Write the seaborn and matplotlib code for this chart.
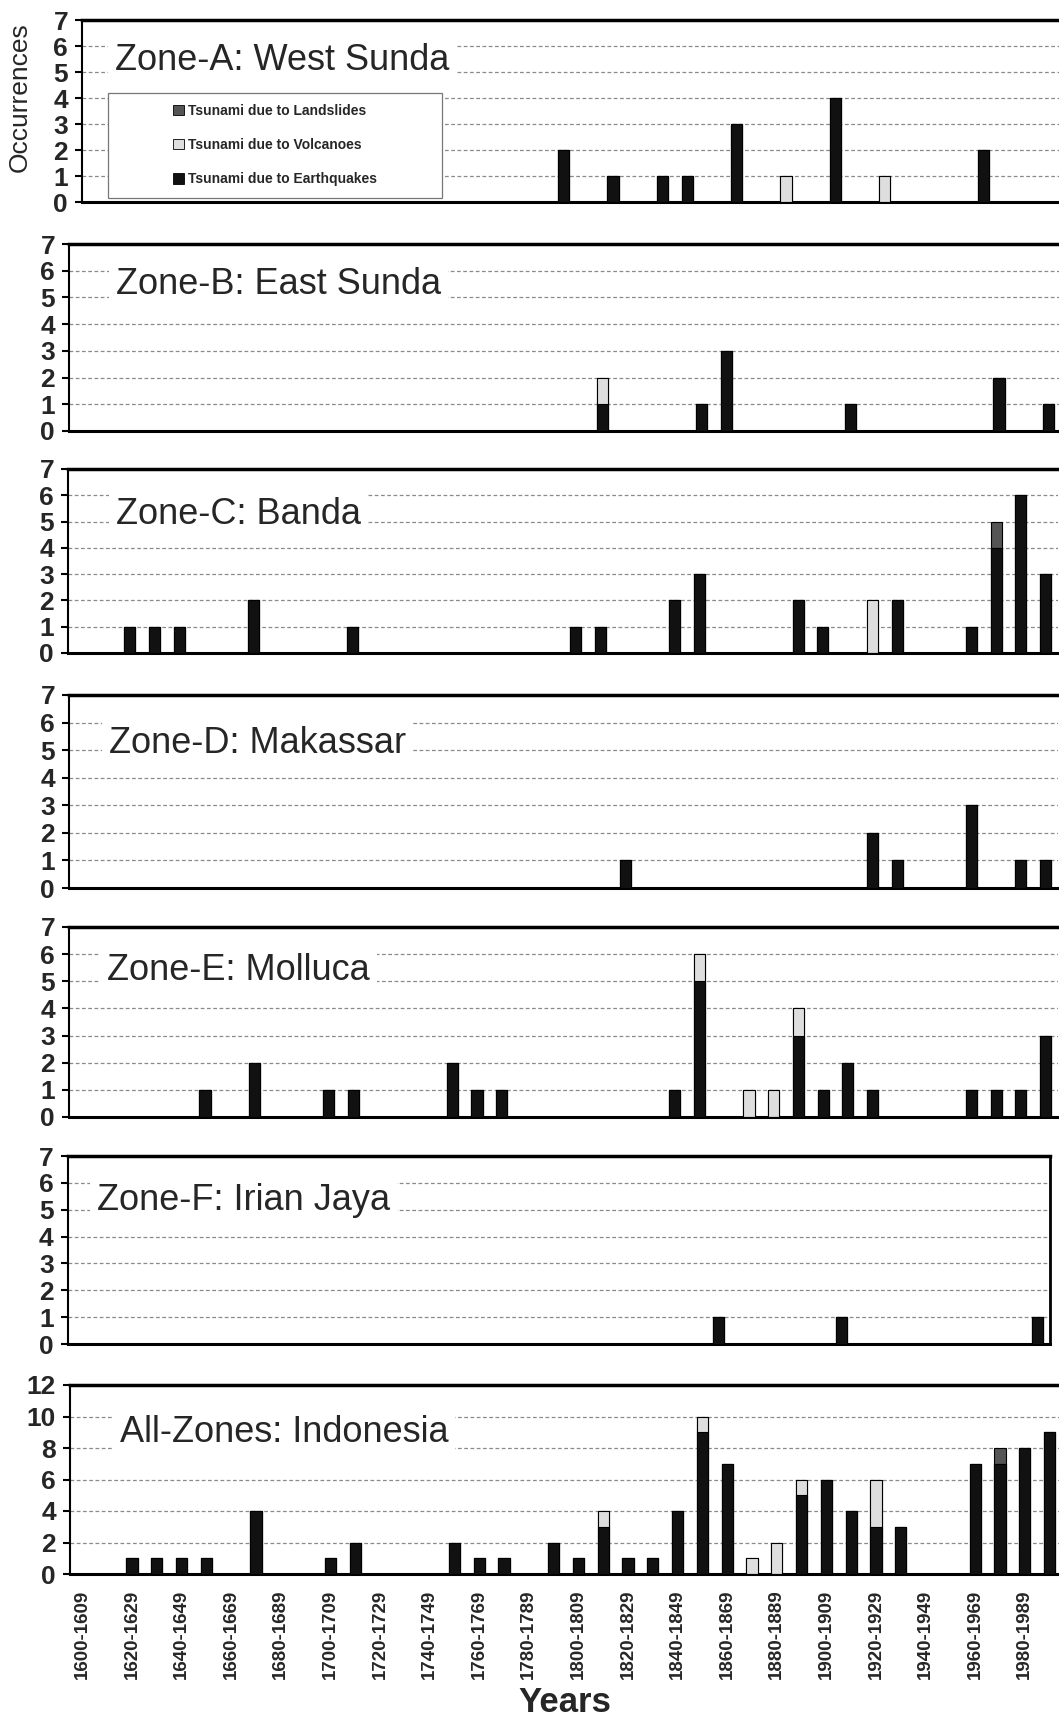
import numpy as np
import pandas as pd
import matplotlib
matplotlib.use('Agg')
import matplotlib.pyplot as plt
import seaborn as sns
from matplotlib.patches import Patch, Rectangle

# ---------------------- DADOS ----------------------
decades = list(range(1600, 2000, 10))
decade_labels = [f'{d}-{d + 9}' for d in decades]

# ocorrências por década (ano inicial -> quantidade)
zone_a_eq = {1790: 2, 1810: 1, 1830: 1, 1840: 1, 1860: 3, 1900: 4, 1960: 2}
zone_a_vol = {1880: 1, 1920: 1}
zone_a_land = {}

zone_b_eq = {1810: 1, 1850: 1, 1860: 3, 1910: 1, 1970: 2, 1990: 1}
zone_b_vol = {1810: 1}
zone_b_land = {}

zone_c_eq = {1620: 1, 1630: 1, 1640: 1, 1670: 2, 1710: 1, 1800: 1, 1810: 1, 1840: 2,
             1850: 3, 1890: 2, 1900: 1, 1930: 2, 1960: 1, 1970: 4, 1980: 6, 1990: 3}
zone_c_vol = {1920: 2}
zone_c_land = {1970: 1}

zone_d_eq = {1820: 1, 1920: 2, 1930: 1, 1960: 3, 1980: 1, 1990: 1}
zone_d_vol = {}
zone_d_land = {}

zone_e_eq = {1650: 1, 1670: 2, 1700: 1, 1710: 1, 1750: 2, 1760: 1, 1770: 1, 1840: 1,
             1850: 5, 1890: 3, 1900: 1, 1910: 2, 1920: 1, 1960: 1, 1970: 1, 1980: 1, 1990: 3}
zone_e_vol = {1850: 1, 1870: 1, 1880: 1, 1890: 1}
zone_e_land = {}

zone_f_eq = {1860: 1, 1910: 1, 1990: 1}
zone_f_vol = {}
zone_f_land = {}

all_eq = {1620: 1, 1630: 1, 1640: 1, 1650: 1, 1670: 4, 1700: 1, 1710: 2, 1750: 2, 1760: 1,
          1770: 1, 1790: 2, 1800: 1, 1810: 3, 1820: 1, 1830: 1, 1840: 4, 1850: 9, 1860: 7,
          1890: 5, 1900: 6, 1910: 4, 1920: 3, 1930: 3, 1960: 7, 1970: 7, 1980: 8, 1990: 9}
all_vol = {1810: 1, 1850: 1, 1870: 1, 1880: 2, 1890: 1, 1920: 3}
all_land = {1970: 1}

titles = ['Zone-A: West Sunda', 'Zone-B: East Sunda', 'Zone-C: Banda', 'Zone-D: Makassar',
          'Zone-E: Molluca', 'Zone-F: Irian Jaya', 'All-Zones: Indonesia']
series = [(zone_a_eq, zone_a_vol, zone_a_land), (zone_b_eq, zone_b_vol, zone_b_land),
          (zone_c_eq, zone_c_vol, zone_c_land), (zone_d_eq, zone_d_vol, zone_d_land),
          (zone_e_eq, zone_e_vol, zone_e_land), (zone_f_eq, zone_f_vol, zone_f_land),
          (all_eq, all_vol, all_land)]
legend_labels = ['Tsunami due to Landslides', 'Tsunami due to Volcanoes', 'Tsunami due to Earthquakes']

# ---------------------- LAYOUT (pixels) ----------------------
W, H = 1059, 1720
boxes = [(82, 1070, 20, 202), (69, 1061, 244, 431), (68, 1058, 469, 653), (69, 1058, 695, 888),
         (69, 1058, 927, 1117), (67.5, 1050, 1156, 1344), (70, 1062, 1385, 1574)]
title_pos = [(115, 61), (116, 284), (116, 514), (109, 744), (107, 971), (97, 1201), (120, 1433)]

EQ, VOL, LAND = '#111111', '#dedede', '#555555'
NARROW = ['Liberation Sans Narrow', 'Liberation Sans', 'DejaVu Sans']
SANS = ['Liberation Sans', 'DejaVu Sans']

sns.set_style('white')
fig = plt.figure(figsize=(W / 100, H / 100), dpi=100)

for i, (title, (eq, vol, land)) in enumerate(zip(titles, series)):
    left, right, top, bottom = boxes[i]
    ax = fig.add_axes([left / W, 1 - bottom / H, (right - left) / W, (bottom - top) / H])
    ax.set_axisbelow(True)

    df = pd.DataFrame({'decade': decade_labels,
                       'eq': [eq.get(d, 0) for d in decades],
                       'vol': [vol.get(d, 0) for d in decades],
                       'land': [land.get(d, 0) for d in decades]})
    df['eq_vol'] = df['eq'] + df['vol']
    df['total'] = df['eq_vol'] + df['land']

    # empilhado: desenha o total e vai cobrindo por cima
    for col, color in [('total', LAND), ('eq_vol', VOL), ('eq', EQ)]:
        sns.barplot(data=df, x='decade', y=col, order=decade_labels, color=color,
                    width=0.45, saturation=1, edgecolor='black', linewidth=0.8, ax=ax, zorder=3)

    last = i == len(titles) - 1
    ymax = 12 if last else 7
    step = 2 if last else 1
    yt = np.arange(0, ymax + 1, step)
    ax.set_xlim(-0.5, 39.5)
    ax.set_ylim(0, ymax)
    ax.set_yticks(yt)
    ax.set_yticklabels([str(v) for v in yt], fontsize=19, fontweight='bold', family=NARROW)
    ax.yaxis.grid(True, color='#8a8a8a', linestyle=(0, (3, 2)), linewidth=0.9)
    ax.xaxis.grid(False)
    ax.set_xlabel('')
    ax.set_ylabel('')

    ax.set_xticks(np.arange(-0.5, 40, 1), minor=True)
    if last:
        ax.set_xticks(np.arange(0, 40, 2))
        ax.set_xticklabels(decade_labels[::2], rotation=90, fontsize=13.5,
                           fontweight='bold', family=SANS, va='top')
    else:
        ax.set_xticks([])
    ax.tick_params(axis='x', which='minor', length=6, width=1.5, direction='out', color='black')
    ax.tick_params(axis='x', which='major', length=0, pad=11)
    ax.tick_params(axis='y', length=5, width=1.5, direction='out', pad=5, color='black', left=True)

    for s in ['top', 'bottom', 'left', 'right']:
        ax.spines[s].set_color('black')
    ax.spines['top'].set_linewidth(2.5)
    ax.spines['bottom'].set_linewidth(2.2)
    ax.spines['left'].set_linewidth(1.5)
    if title == 'Zone-F: Irian Jaya':
        ax.spines['right'].set_linewidth(2)
    else:
        ax.spines['right'].set_visible(False)

    tx, ty = title_pos[i]
    fig.text(tx / W, 1 - ty / H, title, fontsize=26, family=SANS, ha='left', va='center',
             bbox=dict(facecolor='white', edgecolor='none', pad=5))

    if i == 0:
        ax.add_patch(Rectangle((108 / W, 1 - 198 / H), 334 / W, 105 / H, transform=fig.transFigure,
                               facecolor='white', edgecolor='#777777', linewidth=0.9,
                               zorder=4, clip_on=False))
        handles = [Patch(facecolor=c, edgecolor='black', linewidth=0.6) for c in [LAND, VOL, EQ]]
        leg = ax.legend(handles, legend_labels, loc='center', bbox_to_anchor=(275 / W, 1 - 145 / H),
                        bbox_transform=fig.transFigure, frameon=False,
                        prop=dict(family=SANS, weight='bold', size=10),
                        handlelength=0.8, handleheight=0.8, handletextpad=0.3, labelspacing=1.45)
        leg.set_zorder(5)

fig.text(20 / W, 1 - 97 / H, 'Occurrences', rotation=90, fontsize=19, family=SANS,
         ha='center', va='center')
fig.text(565 / W, 1 - 1703 / H, 'Years', fontsize=25, fontweight='bold', family=NARROW,
         ha='center', va='center')

plt.savefig('out.png', dpi=100)
